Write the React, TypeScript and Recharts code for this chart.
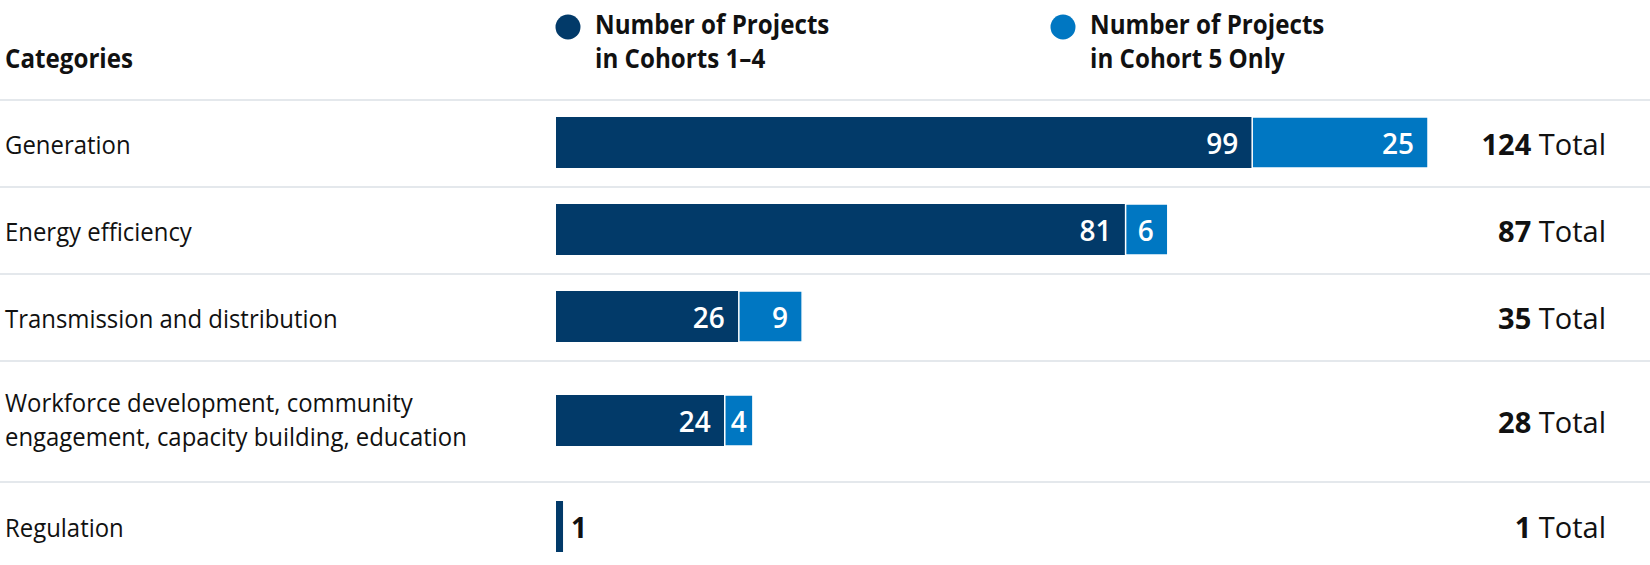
import React from 'react';
import { BarChart, Bar, XAxis, YAxis, LabelList } from 'recharts';

// ---------- data ----------
const categories = [
  'Generation',
  'Energy efficiency',
  'Transmission and distribution',
  'Workforce development, community engagement, capacity building, education',
  'Regulation',
];
const cohorts1to4 = [99, 81, 26, 24, 1];
const cohort5Only = [25, 6, 9, 4, 0];
const totals = [124, 87, 35, 28, 1];
const seriesNames = ['Number of Projects in Cohorts 1–4', 'Number of Projects in Cohort 5 Only'];
const legendLines = [
  ['Number of Projects', 'in Cohorts 1–4'],
  ['Number of Projects', 'in Cohort 5 Only'],
];
const headerTitle = 'Categories';
const totalWord = 'Total';

// ---------- styles ----------
const W = 1650;
const FONT = '"Open Sans", "Noto Sans", sans-serif';
const DARK = '#023a69';
const LIGHT = '#0077c2';
const RULE = '#e4e8ec';
const LEFT_W = 556;
const RIGHT_W = 222;
const HEADER_H = 99;
const BASE_ROW_H = 87;
const LINE_H = 34;
const WRAP_CHARS = 42;
const BAR_SIZE = 51;
const LABEL_SIZE = 26;
const LABEL_SX = 0.92;
const HEAD_SIZE = 26;
const HEAD_SX = 0.93;

const wrap = (s: string, max: number) => {
  const words = s.split(' ');
  const lines: string[] = [];
  let cur = '';
  words.forEach((w) => {
    const next = cur ? cur + ' ' + w : w;
    if (next.length > max && cur) {
      lines.push(cur);
      cur = w;
    } else cur = next;
  });
  if (cur) lines.push(cur);
  return lines;
};

const rows = categories.map((category, i) => ({
  category,
  lines: wrap(category, WRAP_CHARS),
  c14: cohorts1to4[i],
  c5: cohort5Only[i],
  total: totals[i],
}));

const maxTotal = Math.max(...totals);

const CategoryTick = (props: any) => {
  const { y, payload } = props;
  const lines = wrap(String(payload.value), WRAP_CHARS);
  const first = y + 11 - (lines.length - 1) * 19.5;
  return (
    <text
      transform={`translate(5,${first}) scale(${LABEL_SX},1)`}
      x={0}
      y={0}
      fontFamily={FONT}
      fontSize={LABEL_SIZE}
      fill="#111"
      textAnchor="start"
    >
      {lines.map((l, k) => (
        <tspan key={k} x={0} y={k * LINE_H}>
          {l}
        </tspan>
      ))}
    </text>
  );
};

const TotalTick = (props: any) => {
  const { y, payload } = props;
  const idx = categories.indexOf(String(payload.value));
  return (
    <text x={W - 44} y={y + 12} fontFamily={FONT} fontSize={29} fill="#111" textAnchor="end">
      <tspan fontWeight={700}>{totals[idx]}</tspan>
      <tspan fontWeight={400}> {totalWord}</tspan>
    </text>
  );
};

const makeLabel = () => (props: any) => {
  const { x, y, width, height, value } = props;
  if (!value) return null;
  const cy = y + height / 2 + 11;
  if (width < 16) {
    return (
      <text x={x + width + 8} y={cy} fontFamily={FONT} fontSize={28} fontWeight={700} fill="#111" textAnchor="start">
        {value}
      </text>
    );
  }
  if (width < 40) {
    return (
      <text x={x + width / 2} y={cy} fontFamily={FONT} fontSize={28} fontWeight={600} fill="#fff" textAnchor="middle">
        {value}
      </text>
    );
  }
  return (
    <text x={x + width - 14} y={cy} fontFamily={FONT} fontSize={28} fontWeight={600} fill="#fff" textAnchor="end">
      {value}
    </text>
  );
};

const Header = () => (
  <svg width={W} height={HEADER_H} style={{ display: 'block' }}>
    <text
      transform={`translate(5,68) scale(${HEAD_SX},1)`}
      fontFamily={FONT}
      fontSize={HEAD_SIZE}
      fontWeight={700}
      fill="#111"
    >
      {headerTitle}
    </text>
    {legendLines.map((lines, i) => {
      const cx = i === 0 ? 568 : 1063;
      return (
        <g key={i} aria-label={seriesNames[i]}>
          <circle cx={cx} cy={27} r={12.5} fill={i === 0 ? DARK : LIGHT} />
          <text
            transform={`translate(${cx + 27},34) scale(${HEAD_SX},1)`}
            fontFamily={FONT}
            fontSize={HEAD_SIZE}
            fontWeight={700}
            fill="#111"
          >
            {lines.map((l, k) => (
              <tspan key={k} x={0} y={k * LINE_H}>
                {l}
              </tspan>
            ))}
          </text>
        </g>
      );
    })}
  </svg>
);

const Row = ({ row, last }: { row: any; last: boolean }) => {
  const h = BASE_ROW_H + (row.lines.length - 1) * LINE_H + (last ? 3 : 0);
  return (
    <div style={{ borderTop: `2px solid ${RULE}`, height: h, boxSizing: 'border-box', position: 'relative' }}>
      <div style={{ position: 'absolute', left: 0, top: -2 }}>
        <BarChart
          width={W}
          height={h}
          data={[row]}
          layout="vertical"
          margin={{ top: 0, right: 0, bottom: 0, left: 0 }}
          barCategoryGap={0}
        >
          <XAxis type="number" domain={[0, maxTotal]} hide />
          <YAxis
            yAxisId="l"
            type="category"
            dataKey="category"
            width={LEFT_W}
            axisLine={false}
            tickLine={false}
            tick={<CategoryTick />}
          />
          <YAxis
            yAxisId="r"
            orientation="right"
            type="category"
            dataKey="category"
            width={RIGHT_W}
            axisLine={false}
            tickLine={false}
            tick={<TotalTick />}
          />
          <Bar yAxisId="l" dataKey="c14" name={seriesNames[0]} stackId="s" fill={DARK} barSize={BAR_SIZE} isAnimationActive={false}>
            <LabelList dataKey="c14" content={makeLabel()} />
          </Bar>
          <Bar
            yAxisId="l"
            dataKey="c5"
            name={seriesNames[1]}
            stackId="s"
            fill={LIGHT}
            stroke="#fff"
            strokeWidth={1.5}
            barSize={BAR_SIZE}
            isAnimationActive={false}
          >
            <LabelList dataKey="c5" content={makeLabel()} />
          </Bar>
        </BarChart>
      </div>
    </div>
  );
};

export default function App() {
  return (
    <div style={{ position: 'absolute', left: 0, top: 0, width: W, height: 565, background: '#fff', overflow: 'hidden' }}>
      <Header />
      {rows.map((r, i) => (
        <Row key={r.category} row={r} last={i === rows.length - 1} />
      ))}
    </div>
  );
}
